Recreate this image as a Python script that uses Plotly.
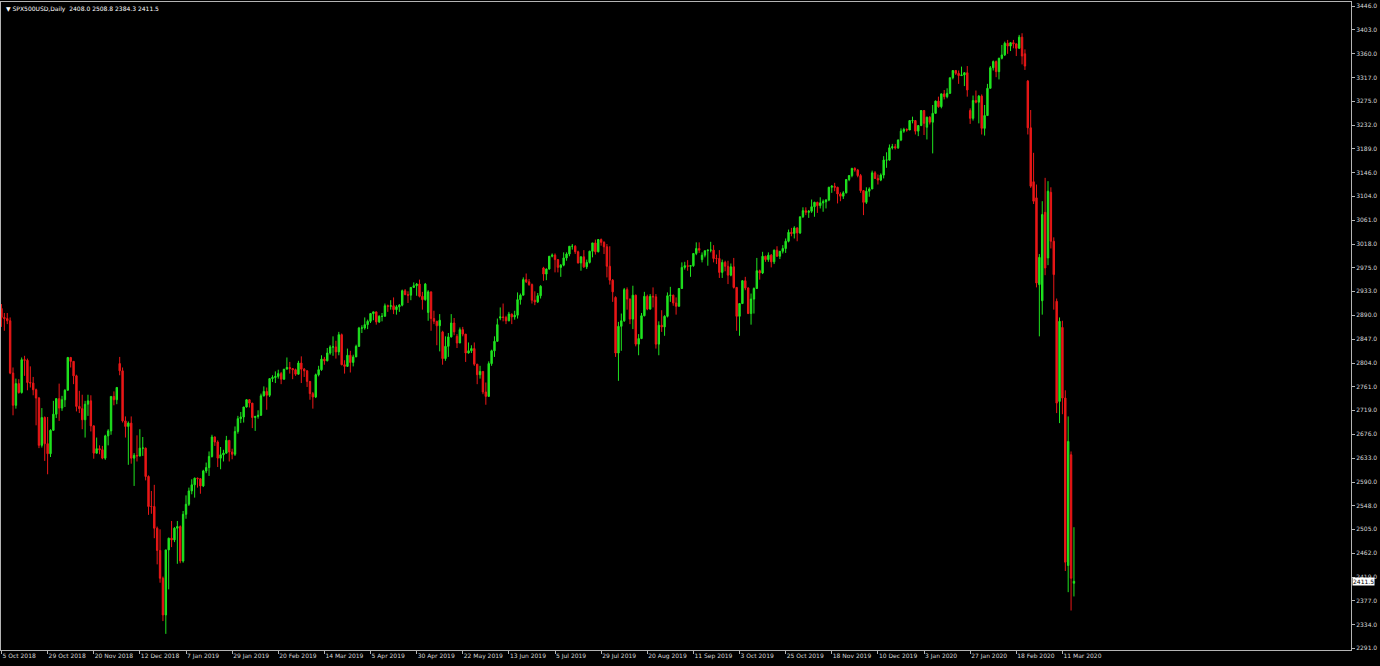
import pandas as pd
import plotly.graph_objects as go

symbol = "SPX500USD,Daily"
holidays = ["2018-12-25", "2019-01-01", "2019-04-19", "2019-12-25", "2020-01-01"]
dates = [d.strftime("%Y-%m-%d") for d in pd.bdate_range("2018-10-05", "2020-03-17")
         if d.strftime("%Y-%m-%d") not in holidays]

open_ = [
    2902,2886,2884,2880,2786,2728,2767,2751,2810,2809,2769,2768,2756,2741,2656,2706,2659,2641,2683,  # Oct 18
    2712,2740,2723,2738,2755,2814,2807,2781,2726,2722,2702,2730,2736,2691,2642,2650,2648,2633,2673,2682,2744,2738,  # Nov 18
    2803,2790,2700,2690,2696,2633,2638,2637,2651,2651,2600,2546,2546,2507,2467,2417,2351,2468,2489,2486,  # Dec 18
    2507,2510,2448,2532,2550,2574,2585,2597,2596,2583,2610,2616,2636,2671,2662,2633,2639,2642,2665,2644,2640,2681,  # Jan 19
    2704,2707,2725,2738,2732,2706,2708,2710,2745,2753,2746,2776,2778,2780,2785,2775,2793,2796,2794,2792,  # Feb 19
    2784,2804,2793,2790,2771,2749,2743,2783,2792,2811,2808,2822,2833,2833,2824,2855,2801,2798,2818,2805,2815,  # Mar 19
    2834,2867,2867,2873,2879,2893,2896,2878,2888,2888,2907,2906,2907,2900,2905,2908,2934,2927,2926,2940,2943,  # Apr 19
    2946,2924,2918,2895,2932,2884,2879,2871,2860,2812,2834,2851,2876,2852,2840,2864,2856,2822,2826,2830,2802,2783,2789,  # May 19
    2752,2744,2803,2826,2843,2885,2887,2886,2880,2892,2887,2890,2918,2926,2954,2950,2945,2917,2914,2925,  # Jun 19
    2975,2964,2973,2996,2998,2990,2976,2980,2993,3000,3014,3014,3004,2984,2995,2977,2985,3005,3020,3004,3026,3021,3013,  # Jul 19
    2978,2953,2922,2822,2870,2880,2936,2919,2883,2926,2838,2848,2889,2924,2901,2924,2923,2838,2872,2869,2888,2925,  # Aug 19
    2926,2912,2906,2938,2976,2979,2978,2979,3001,3010,2990,2998,3006,3007,3007,2992,2992,2967,2985,2978,2962,  # Sep 19
    2977,2940,2888,2911,2952,2939,2893,2919,2938,2970,2966,2996,2990,2998,2986,3007,2996,3005,3010,3023,3039,3037,3047,  # Oct 19
    3038,3067,3078,3075,3077,3085,3093,3087,3092,3094,3097,3120,3122,3120,3108,3104,3110,3134,3141,3154,3151,  # Nov 19
    3141,3114,3093,3113,3117,3146,3136,3133,3142,3169,3169,3191,3193,3191,3205,3221,3224,3223,3240,3240,3221,  # Dec 19
    3231,3258,3228,3246,3237,3253,3275,3265,3288,3283,3289,3317,3330,3325,3321,3322,3326,3258,3244,3276,3273,3284,  # Jan 20
    3226,3249,3298,3335,3346,3328,3352,3358,3379,3374,3380,3378,3370,3390,3360,3311,3227,3130,3101,2945,  # Feb 20
    2916,3075,2993,3111,3023,2915,2735,2868,2741,2440,2639,2408.0,  # Mar 20
]
high = [
    2910,2894,2894,2886,2796,2776,2775,2814,2817,2812,2798,2779,2758,2743,2723,2708,2707,2685,2736,
    2741,2767,2745,2757,2815,2815,2807,2783,2754,2747,2736,2747,2746,2692,2670,2656,2655,2675,2685,2744,2753,2761,
    2815,2796,2708,2699,2708,2642,2674,2685,2671,2652,2602,2574,2585,2510,2505,2420,2468,2490,2520,2509,
    2520,2512,2538,2566,2580,2595,2598,2598,2597,2612,2625,2645,2675,2672,2665,2653,2648,2673,2665,2650,2690,2709,
    2716,2725,2739,2739,2732,2709,2719,2749,2762,2760,2776,2782,2789,2792,2788,2793,2814,2806,2795,2794,
    2808,2816,2795,2791,2771,2752,2785,2799,2818,2815,2831,2836,2852,2844,2860,2857,2809,2830,2826,2819,2837,
    2869,2872,2886,2882,2894,2896,2896,2890,2894,2911,2909,2917,2922,2908,2910,2936,2937,2933,2940,2949,2948,
    2954,2932,2948,2935,2932,2898,2880,2892,2862,2852,2858,2892,2885,2856,2868,2869,2856,2841,2836,2841,2802,2799,2789,
    2769,2807,2828,2852,2884,2904,2911,2889,2896,2893,2898,2931,2929,2958,2965,2955,2947,2933,2930,2944,
    2977,2974,2996,3001,3001,2990,2982,3003,3003,3014,3018,3016,3006,2996,3007,2990,3006,3020,3026,3027,3028,3023,3018,
    3014,2955,2924,2878,2893,2939,2940,2920,2943,2927,2856,2894,2932,2927,2928,2940,2928,2879,2899,2890,2931,2941,
    2927,2922,2939,2985,2986,2989,2980,3001,3021,3021,3003,3006,3008,3022,3016,2999,3007,2990,2988,2988,2983,
    2993,2940,2911,2953,2959,2940,2929,2940,2993,2972,3004,2997,3003,3000,3008,3014,3005,3016,3028,3044,3047,3050,3048,
    3067,3084,3084,3079,3098,3094,3094,3102,3098,3099,3121,3124,3128,3121,3111,3113,3134,3142,3155,3156,3153,
    3144,3115,3120,3120,3150,3149,3143,3145,3176,3183,3197,3198,3198,3206,3226,3227,3226,3240,3247,3241,3232,
    3259,3259,3247,3248,3268,3276,3283,3288,3295,3298,3317,3330,3331,3330,3337,3327,3338,3262,3285,3294,3286,3287,
    3268,3306,3338,3348,3348,3353,3376,3382,3385,3381,3385,3378,3394,3397,3368,3313,3259,3182,3125,3000,
    3095,3137,3131,3120,3030,2920,2886,2880,2755,2708,2645,2508.8,
]
low = [
    2869,2862,2874,2784,2710,2722,2749,2749,2781,2755,2760,2746,2692,2651,2652,2628,2604,2635,2683,
    2705,2700,2718,2725,2755,2796,2766,2717,2714,2685,2670,2709,2681,2632,2641,2640,2631,2630,2656,2675,2728,2730,
    2782,2697,2670,2621,2623,2583,2627,2636,2637,2593,2531,2533,2489,2442,2409,2340,2317,2397,2473,2482,
    2443,2444,2445,2524,2547,2568,2562,2580,2569,2581,2606,2601,2634,2655,2617,2613,2627,2641,2627,2631,2637,2677,
    2696,2697,2724,2724,2687,2682,2704,2709,2744,2720,2743,2770,2768,2776,2766,2774,2793,2785,2775,2781,
    2783,2768,2779,2761,2738,2722,2741,2780,2790,2801,2807,2819,2817,2812,2818,2800,2785,2797,2787,2798,2815,
    2833,2858,2864,2865,2876,2881,2873,2876,2879,2888,2896,2900,2892,2891,2896,2906,2926,2912,2917,2939,2925,
    2922,2900,2916,2880,2862,2874,2836,2825,2801,2808,2815,2850,2854,2831,2840,2852,2806,2821,2822,2799,2766,2776,2748,
    2729,2744,2799,2815,2843,2881,2879,2874,2879,2874,2882,2884,2909,2926,2948,2943,2911,2908,2912,2920,
    2952,2953,2972,2994,2967,2967,2959,2978,2988,2996,3008,3000,2983,2970,2975,2973,2983,2994,2999,3003,3015,3000,2958,
    2945,2914,2815,2772,2826,2878,2900,2874,2865,2834,2818,2847,2888,2899,2900,2904,2830,2818,2860,2853,2886,2914,
    2907,2891,2906,2938,2972,2970,2959,2977,2998,3002,2985,2994,2979,3003,2985,2982,2957,2957,2969,2946,2960,
    2938,2862,2853,2910,2935,2892,2873,2893,2938,2954,2964,2986,2986,2976,2982,2995,2991,3001,3002,3021,3032,3028,3023,
    3036,3065,3070,3065,3074,3067,3074,3082,3076,3082,3095,3110,3113,3091,3095,3099,3109,3131,3138,3148,3138,
    3110,3070,3090,3103,3117,3135,3125,3131,3136,3155,3168,3188,3188,3189,3203,3218,3220,3223,3235,3215,3212,
    3230,3214,3206,3233,3181,3252,3263,3262,3278,3280,3288,3314,3322,3306,3320,3302,3283,3234,3240,3271,3235,3215,
    3213,3249,3298,3330,3318,3314,3350,3356,3360,3365,3370,3356,3369,3341,3331,3215,3119,3090,2940,2852,
    2891,2962,2980,3010,2900,2714,2696,2712,2430,2392,2359,2384.3,
]
close = [
    2886,2884,2880,2786,2728,2767,2751,2810,2809,2769,2768,2756,2741,2656,2706,2659,2641,2683,2712,
    2740,2723,2738,2755,2814,2807,2781,2726,2722,2702,2730,2736,2691,2642,2650,2648,2633,2673,2682,2744,2738,2760,
    2790,2700,2690,2696,2633,2638,2637,2651,2651,2600,2546,2546,2507,2467,2417,2351,2468,2489,2486,2507,
    2510,2448,2532,2550,2574,2585,2597,2596,2583,2610,2616,2636,2671,2662,2633,2639,2642,2665,2644,2640,2681,2704,
    2707,2725,2738,2732,2706,2708,2710,2745,2753,2746,2776,2778,2780,2785,2775,2793,2796,2794,2792,2784,
    2804,2793,2790,2771,2749,2743,2783,2792,2811,2808,2822,2833,2833,2824,2855,2801,2798,2818,2805,2815,2834,
    2867,2867,2873,2879,2893,2896,2878,2888,2888,2907,2906,2907,2900,2905,2908,2934,2927,2926,2940,2943,2946,
    2924,2918,2946,2932,2884,2879,2871,2881,2812,2834,2851,2876,2860,2840,2864,2856,2822,2826,2830,2802,2783,2789,2752,
    2744,2803,2826,2843,2873,2887,2886,2880,2892,2887,2890,2918,2926,2954,2950,2945,2917,2914,2925,2942,
    2964,2973,2996,2998,2990,2976,2980,2993,3000,3014,3014,3004,2984,2995,2977,2985,3005,3020,3004,3026,3021,3013,2978,
    2953,2932,2822,2870,2880,2936,2919,2883,2926,2838,2848,2889,2924,2901,2924,2923,2838,2872,2869,2888,2925,2926,
    2912,2906,2938,2976,2979,2978,2979,3001,3010,3007,2998,3006,3007,3007,2992,2992,2967,2985,2978,2962,2977,
    2940,2888,2911,2952,2939,2893,2919,2938,2970,2966,2996,2990,2998,2986,3007,2996,3005,3010,3023,3039,3037,3047,3038,
    3067,3078,3075,3077,3085,3093,3087,3092,3094,3097,3120,3122,3120,3108,3104,3110,3134,3141,3154,3151,3141,
    3114,3093,3113,3117,3146,3136,3133,3142,3169,3169,3191,3193,3191,3205,3221,3224,3223,3240,3240,3221,3231,
    3258,3235,3246,3237,3253,3275,3265,3288,3283,3289,3317,3330,3325,3321,3322,3326,3295,3244,3276,3273,3284,3226,
    3249,3298,3335,3346,3328,3352,3358,3379,3374,3380,3378,3370,3390,3356,3338,3227,3122,3095,2948,2994,
    3071,2975,3113,3023,2963,2732,2879,2741,2446,2663,2417,2411.5,
]

x_tick_dates = ["2018-10-05", "2018-10-29", "2018-11-20", "2018-12-12", "2019-01-07", "2019-01-29",
                "2019-02-20", "2019-03-14", "2019-04-05", "2019-04-30", "2019-05-22", "2019-06-13",
                "2019-07-05", "2019-07-29", "2019-08-20", "2019-09-11", "2019-10-03", "2019-10-25",
                "2019-11-18", "2019-12-10", "2020-01-03", "2020-01-27", "2020-02-18", "2020-03-11"]
x_tick_text = ["5 Oct 2018", "29 Oct 2018", "20 Nov 2018", "12 Dec 2018", "7 Jan 2019", "29 Jan 2019",
               "20 Feb 2019", "14 Mar 2019", "5 Apr 2019", "30 Apr 2019", "22 May 2019", "13 Jun 2019",
               "5 Jul 2019", "29 Jul 2019", "20 Aug 2019", "11 Sep 2019", "3 Oct 2019", "25 Oct 2019",
               "18 Nov 2019", "10 Dec 2019", "3 Jan 2020", "27 Jan 2020", "18 Feb 2020", "11 Mar 2020"]
y_tick_vals = [3446, 3403, 3360, 3317, 3275, 3232, 3189, 3146, 3104, 3061, 3018, 2975, 2933, 2890,
               2847, 2804, 2761, 2719, 2676, 2633, 2590, 2548, 2505, 2462, 2419, 2377, 2334, 2291]

n = min(len(dates), len(open_), len(high), len(low), len(close))
dates, open_, high, low, close = dates[:n], open_[:n], high[:n], low[:n], close[:n]

UP = "#1fe41f"
DOWN = "#ea1717"
FRAME = "#b4b4b4"
TXT = "#d8d8d8"
FONT = "DejaVu Sans"
FS = 6

fig = go.Figure(go.Candlestick(
    x=dates, open=open_, high=high, low=low, close=close,
    increasing=dict(line=dict(color=UP, width=1), fillcolor=UP),
    decreasing=dict(line=dict(color=DOWN, width=1), fillcolor=DOWN),
    whiskerwidth=0, hoverinfo="skip", showlegend=False,
))

title = f"\u25BC {symbol}  {open_[-1]:.1f} {high[-1]:.1f} {low[-1]:.1f} {close[-1]:.1f}"

fig.update_layout(
    width=1380, height=666,
    paper_bgcolor="black", plot_bgcolor="black",
    margin=dict(l=1, r=29, t=2, b=16, autoexpand=False),
    font=dict(family=FONT, size=FS, color=TXT),
    showlegend=False,
    xaxis=dict(
        type="category", range=[-0.17, 468.1], automargin=False,
        tickvals=x_tick_dates, ticktext=x_tick_text, tickangle=0,
        ticks="outside", ticklen=3, tickcolor=FRAME, tickwidth=1,
        ticklabelposition="outside right",
        tickfont=dict(family=FONT, size=FS, color=TXT),
        showline=True, linecolor=FRAME, linewidth=1, mirror=True,
        showgrid=False, zeroline=False, rangeslider=dict(visible=False), fixedrange=True,
    ),
    yaxis=dict(
        side="right", range=[2288.0, 3453.2], automargin=False,
        tickvals=y_tick_vals, ticktext=[f"{v:.1f}" for v in y_tick_vals],
        ticks="outside", ticklen=3, tickcolor=FRAME, tickwidth=1,
        tickfont=dict(family=FONT, size=FS, color=TXT),
        showline=True, linecolor=FRAME, linewidth=1, mirror=True,
        showgrid=False, zeroline=False, fixedrange=True,
    ),
    annotations=[
        dict(text=title, xref="paper", yref="paper", x=0, y=1, xanchor="left", yanchor="top",
             xshift=3, yshift=-1, showarrow=False, font=dict(family=FONT, size=FS, color="#ffffff")),
        dict(text=f"{close[-1]:.1f}", xref="paper", yref="y", x=1, y=close[-1],
             xanchor="left", yanchor="middle", xshift=1, showarrow=False,
             bgcolor="#ffffff", borderpad=0, font=dict(family=FONT, size=FS, color="#000000")),
    ],
)

fig.write_html(
    "out.html",
    config={"displayModeBar": False},
    post_script="document.body.style.margin='0';document.body.style.padding='0';"
                "document.body.style.overflow='hidden';document.body.style.background='black';",
)
